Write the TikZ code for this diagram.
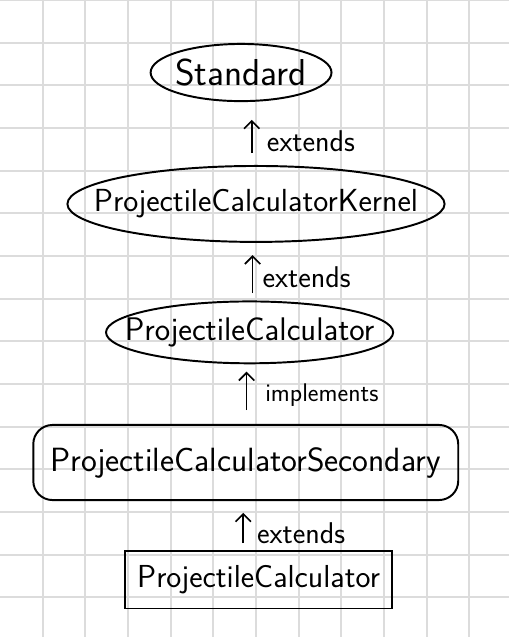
\documentclass[tikz,border=0pt]{standalone}
\usepackage{tikz}
\usetikzlibrary{arrows.meta}
\usetikzlibrary{shapes.geometric, shapes.misc}
\definecolor{gridgray}{RGB}{220,220,220}
\tikzstyle{gridline} = [draw=gridgray, line width=1.2pt]
\tikzstyle{oval} = [draw, ellipse, line width=1.3pt, inner sep=0pt]
\tikzstyle{block} = [draw, rectangle, line width=1.2pt, inner sep=0pt]
\tikzstyle{roundblock} = [draw, rectangle, rounded corners=0.45cm, line width=1.3pt, inner sep=0pt]
\tikzstyle{arrow} = [-{Straight Barb[length=1.8mm, width=3.6mm]}, line width=1.1pt]
\tikzstyle{rel} = [anchor=base west, inner sep=0pt]
\newcommand{\hw}[1]{\makebox[0pt]{#1}}
\newcommand{\fs}[1]{\sffamily\fontsize{#1}{#1}\selectfont}

\begin{document}
\begin{tikzpicture}
	\useasboundingbox (0,0) rectangle (11.93,-14.93);
	% paper grid
	\foreach \i in {1,...,11} \draw [gridline] (\i,0) -- (\i,-14.93);
	\foreach \j in {0,...,14} \draw [gridline] (0,-\j) -- (11.93,-\j);

	\node (std) [oval, minimum width=4.24cm, minimum height=1.34cm, font=\fs{25}] at (5.65,-1.70) {\hw{Standard}};
	\node (kernel) [oval, minimum width=8.84cm, minimum height=1.78cm, font=\fs{21.3}] at (6.00,-4.78) {\hw{ProjectileCalculatorKernel}};
	\node (calc) [oval, minimum width=6.73cm, minimum height=1.45cm, font=\fs{21.8}] at (5.85,-7.79) {\hw{ProjectileCalculator}};
	\node (second) [roundblock, minimum width=9.96cm, minimum height=1.76cm, font=\fs{22.4}] at (5.76,-10.84) {\hw{ProjectileCalculatorSecondary}};
	\node (impl) [block, minimum width=6.26cm, minimum height=1.34cm, font=\fs{21.2}] at (6.06,-13.59) {\hw{ProjectileCalculator}};

	\coordinate (a1s) at (5.90,-3.59);
	\coordinate (a1e) at (5.90,-2.81);
	\coordinate (a2s) at (5.92,-6.87);
	\coordinate (a2e) at (5.92,-5.98);
	\coordinate (a3s) at (5.78,-9.61);
	\coordinate (a3e) at (5.78,-8.71);
	\coordinate (a4s) at (5.70,-12.73);
	\coordinate (a4e) at (5.70,-12.02);

	\draw [arrow] (a1s) -- (a1e);
	\node (l1) [rel, font=\fs{20}] at (6.25,-3.555) {extends};
	\draw [arrow] (a2s) -- (a2e);
	\node (l2) [rel, font=\fs{20}] at (6.15,-6.75) {extends};
	\draw [arrow] (a3s) -- (a3e);
	\node (l3) [rel, font=\fs{17}] at (6.21,-9.41) {implements};
	\draw [arrow] (a4s) -- (a4e);
	\node (l4) [rel, font=\fs{20}] at (6.02,-12.73) {extends};
\end{tikzpicture}
\end{document}
